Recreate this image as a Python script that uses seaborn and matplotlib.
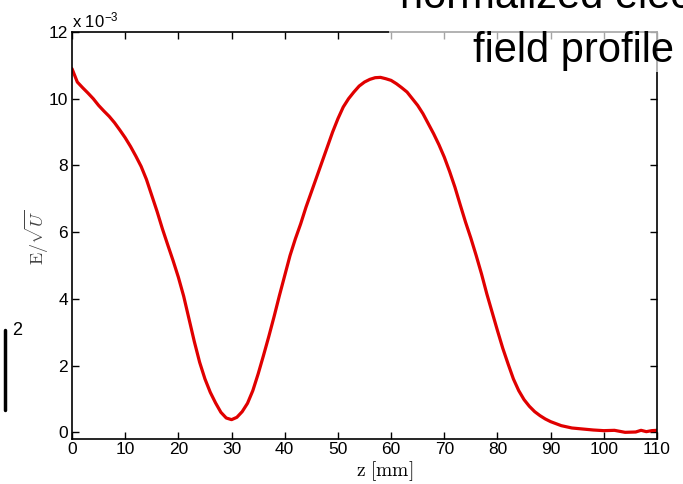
import numpy as np
import pandas as pd
import matplotlib
matplotlib.use("Agg")
import matplotlib.pyplot as plt
import matplotlib.patches as mpatches
import seaborn as sns

# Data (E/sqrt(U) in units of 1e-3, z in mm)
z_mm = [0, 0.5, 1, 2, 3, 4, 5, 6, 7, 8, 9, 10, 11, 12, 13, 14, 15, 16, 17, 18, 19,
        20, 21, 22, 23, 24, 25, 26, 27, 28, 29, 30, 31, 32, 33, 34, 35, 36, 37, 38,
        39, 40, 41, 42, 43, 44, 45, 46, 47, 48, 49, 50, 51, 52, 53, 54, 55, 56, 57,
        58, 59, 60, 61, 62, 63, 64, 65, 66, 67, 68, 69, 70, 71, 72, 73, 74, 75, 76,
        77, 78, 79, 80, 81, 82, 83, 84, 85, 86, 87, 88, 89, 90, 92, 94, 96, 98, 100,
        102, 104, 106, 107, 108, 109, 110]
e_field = [10.9, 10.7, 10.5, 10.33, 10.17, 10.0, 9.8, 9.63, 9.47, 9.28, 9.06, 8.83,
           8.57, 8.28, 7.97, 7.58, 7.1, 6.62, 6.1, 5.62, 5.15, 4.65, 4.08, 3.4, 2.72,
           2.1, 1.6, 1.2, 0.88, 0.6, 0.43, 0.38, 0.45, 0.62, 0.87, 1.25, 1.75, 2.3,
           2.87, 3.47, 4.1, 4.7, 5.3, 5.8, 6.25, 6.75, 7.2, 7.65, 8.1, 8.55, 9.0, 9.4,
           9.75, 10.0, 10.2, 10.38, 10.5, 10.58, 10.63, 10.64, 10.6, 10.55, 10.45,
           10.33, 10.2, 10.0, 9.8, 9.55, 9.25, 8.95, 8.62, 8.25, 7.82, 7.35, 6.82,
           6.3, 5.82, 5.3, 4.75, 4.15, 3.6, 3.05, 2.52, 2.05, 1.6, 1.25, 0.98, 0.78,
           0.62, 0.5, 0.4, 0.32, 0.2, 0.13, 0.1, 0.07, 0.05, 0.06, 0.0, 0.01, 0.06,
           0.02, 0.05, 0.06]
x_ticks = [0, 10, 20, 30, 40, 50, 60, 70, 80, 90, 100, 110]
y_ticks = [0, 2, 4, 6, 8, 10, 12]

df = pd.DataFrame({"z": z_mm, "E": e_field})

sns.set_style("ticks")
plt.rcParams["font.family"] = ["Liberation Sans", "DejaVu Sans"]
plt.rcParams["mathtext.fontset"] = "cm"
plt.rcParams["text.color"] = "black"

fig = plt.figure(figsize=(6.83, 4.84), dpi=100)
ax = fig.add_axes([72/683, 1-439/484, (657-72)/683, (439-32)/484])

sns.lineplot(data=df, x="z", y="E", ax=ax, color="#e00000", linewidth=2.3)

ax.set_xlim(0, 110)
ax.set_ylim(-0.2, 12)
ax.set_xticks(x_ticks)
ax.set_yticks(y_ticks)
ax.tick_params(direction="in", top=True, right=True, length=5, width=1.0,
               labelsize=12.5, colors="black", pad=3)
ax.tick_params(axis="x", pad=2)
for s in ax.spines.values():
    s.set_linewidth(1.2)
    s.set_color("black")
    s.set_visible(True)

ax.set_xlabel("")
ax.set_ylabel("")
fig.text(385/683, 1-471/484, r"$\mathrm{z\ [mm]}$", ha="center", va="center",
         fontsize=14, color="black")
fig.text(37/683, 1-237/484, r"$\mathrm{E}/\sqrt{U}$", ha="center", va="center",
         rotation=90, fontsize=13, color="#444444")
ax.text(0.0, 1.005, r"x 10$^{\mathregular{-3}}$", transform=ax.transAxes,
        ha="left", va="bottom", fontsize=12, color="black")

# overlay from pasted title
fig.patches.append(mpatches.Rectangle((389/683, 1-72/484), (683-389)/683, 72/484,
                                      transform=fig.transFigure, facecolor="white",
                                      alpha=0.65, edgecolor="none", zorder=5))
fig.text(400/683, 1-8/484, "normalized electric", ha="left", va="baseline",
         fontsize=30, color="black", zorder=6)
fig.text(473/683, 1-62/484, "field profile", ha="left", va="baseline",
         fontsize=30, color="black", zorder=6)

# side fragment at left
fig.add_artist(plt.Line2D([5/683, 5/683], [1-330/484, 1-410/484],
                          transform=fig.transFigure, color="black", linewidth=2.5))
fig.text(12/683, 1-335/484, "2", ha="left", va="baseline", fontsize=13,
         color="black")

fig.savefig("out.png", dpi=100)
